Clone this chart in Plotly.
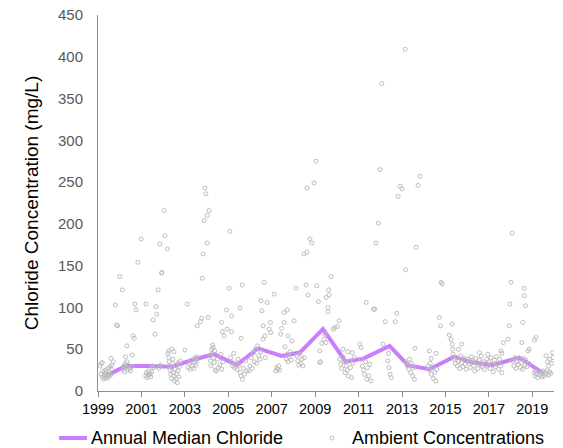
import plotly.graph_objects as go

# Annual median chloride (decimal year, mg/L)
median_year = [1999.45, 2000.27, 2001.35, 2002.39, 2003.46, 2004.35, 2005.38, 2006.37,
               2007.45, 2008.29, 2009.36, 2010.41, 2011.25, 2012.43, 2013.27, 2014.26,
               2015.41, 2016.26, 2017.17, 2018.40, 2019.52]
median_value = [19, 30, 30, 29, 38, 44, 31, 51, 42, 46, 74, 35, 39, 54, 31, 26,
                41, 34, 31, 40, 21]

# Ambient concentrations (decimal year, mg/L)
ambient_samples = [
    (1999.10, 30), (1999.15, 33), (1999.15, 20), (1999.20, 17), (1999.22, 24), (1999.25, 14),
    (1999.28, 19), (1999.30, 22), (1999.32, 16), (1999.35, 25), (1999.38, 18), (1999.40, 21),
    (1999.42, 15), (1999.45, 27), (1999.48, 20), (1999.50, 17), (1999.52, 23), (1999.55, 29),
    (1999.58, 19), (1999.60, 39), (1999.62, 26), (1999.63, 31), (1999.80, 103), (1999.86, 79),
    (1999.90, 78), (1999.70, 35), (1999.20, 34),
    (2000.01, 137), (2000.12, 121), (2000.33, 54), (2000.58, 43), (2000.26, 41), (2000.61, 66),
    (2000.67, 63), (2000.70, 104), (2000.75, 97), (2000.17, 26), (2000.20, 30), (2000.22, 23),
    (2000.25, 33), (2000.30, 28), (2000.33, 35), (2000.36, 25), (2000.40, 31), (2000.45, 27),
    (2000.50, 24), (2000.55, 29), (2000.84, 154), (2000.99, 182),
    (2001.21, 104), (2001.67, 101), (2001.70, 92), (2001.54, 85), (2001.62, 68), (2001.77, 121),
    (2001.93, 141), (2001.85, 176), (2001.94, 142), (2001.20, 18), (2001.23, 22), (2001.26, 16),
    (2001.30, 20), (2001.33, 24), (2001.36, 19), (2001.40, 21), (2001.43, 17), (2001.47, 23),
    (2001.50, 30), (2001.55, 28), (2001.80, 27), (2001.88, 31),
    (2002.05, 216), (2002.08, 186), (2002.19, 170), (2002.26, 48), (2002.39, 50), (2002.22, 45),
    (2002.25, 40), (2002.28, 35), (2002.30, 30), (2002.32, 25), (2002.35, 20), (2002.38, 15),
    (2002.40, 28), (2002.42, 33), (2002.45, 38), (2002.47, 22), (2002.50, 18), (2002.52, 12),
    (2002.55, 26), (2002.58, 31), (2002.60, 14), (2002.62, 20), (2002.65, 10), (2002.68, 24),
    (2002.70, 34), (2002.72, 17), (2002.75, 29), (2002.80, 36), (2002.50, 47),
    (2003.00, 49), (2003.11, 104), (2003.46, 40), (2003.57, 41), (2003.77, 87), (2003.72, 83),
    (2003.57, 78), (2003.80, 135), (2003.84, 164), (2003.89, 204), (2003.92, 243), (2003.97, 236),
    (2003.15, 28), (2003.20, 33), (2003.25, 26), (2003.30, 37), (2003.35, 30), (2003.40, 27),
    (2003.45, 34), (2003.50, 31), (2003.55, 36),
    (2004.03, 210), (2004.03, 177), (2004.07, 88), (2004.12, 216), (2004.23, 50), (2004.30, 52),
    (2004.69, 82), (2004.72, 71), (2004.81, 66), (2004.95, 74), (2004.92, 97), (2004.15, 42),
    (2004.18, 36), (2004.20, 30), (2004.25, 45), (2004.28, 55), (2004.32, 40), (2004.35, 34),
    (2004.38, 48), (2004.40, 25), (2004.45, 24), (2004.50, 38), (2004.55, 28), (2004.60, 31),
    (2004.65, 44), (2004.70, 26), (2004.75, 35),
    (2005.04, 123), (2005.07, 191), (2005.15, 90), (2005.15, 71), (2005.54, 99), (2005.59, 63),
    (2005.64, 127), (2005.10, 40), (2005.15, 35), (2005.20, 30), (2005.25, 45), (2005.30, 28),
    (2005.35, 33), (2005.40, 26), (2005.45, 38), (2005.50, 31), (2005.55, 22), (2005.60, 18),
    (2005.65, 14), (2005.70, 27), (2005.75, 20), (2005.80, 36), (2005.85, 24),
    (2006.51, 108), (2006.55, 96), (2006.60, 78), (2006.60, 62), (2006.65, 130), (2006.69, 66),
    (2006.79, 106), (2006.88, 74), (2006.94, 82), (2006.95, 70), (2005.96, 24), (2006.00, 30),
    (2006.05, 40), (2006.10, 27), (2006.15, 45), (2006.20, 35), (2006.25, 50), (2006.30, 33),
    (2006.35, 54), (2006.40, 42), (2006.45, 38), (2006.50, 47), (2006.70, 40),
    (2007.11, 116), (2007.41, 68), (2007.45, 75), (2007.57, 82), (2007.57, 94), (2007.72, 97),
    (2007.75, 66), (2007.93, 60), (2007.61, 53), (2007.18, 24), (2007.22, 28), (2007.27, 26),
    (2007.32, 30), (2007.37, 25), (2007.68, 38), (2007.72, 44), (2007.75, 35), (2007.80, 41),
    (2007.85, 47), (2007.90, 37),
    (2008.03, 84), (2008.12, 123), (2008.49, 164), (2008.58, 127), (2008.62, 243), (2008.62, 166),
    (2008.67, 115), (2008.76, 182), (2008.85, 177), (2008.95, 249), (2008.16, 42), (2008.20, 36),
    (2008.25, 31), (2008.30, 44), (2008.35, 33), (2008.40, 38), (2008.44, 30), (2008.50, 40),
    (2009.04, 275), (2009.07, 126), (2009.15, 107), (2009.21, 48), (2009.30, 57), (2009.21, 34),
    (2009.51, 112), (2009.59, 100), (2009.62, 121), (2009.64, 115), (2009.59, 95), (2009.74, 137),
    (2009.84, 74), (2009.90, 76), (2009.25, 35), (2009.40, 62), (2009.45, 68), (2009.50, 58),
    (2010.02, 77), (2010.10, 84), (2010.28, 50), (2010.51, 47), (2010.71, 46), (2010.13, 38),
    (2010.18, 32), (2010.22, 27), (2010.28, 41), (2010.33, 35), (2010.38, 22), (2010.43, 30),
    (2010.48, 25), (2010.53, 18), (2010.58, 36), (2010.63, 28), (2010.68, 16), (2010.73, 33),
    (2010.80, 40),
    (2011.05, 56), (2011.12, 52), (2011.35, 106), (2011.69, 98), (2011.75, 98), (2011.80, 177),
    (2011.91, 201), (2011.99, 265), (2011.12, 38), (2011.17, 30), (2011.22, 25), (2011.27, 20),
    (2011.32, 35), (2011.37, 14), (2011.42, 28), (2011.47, 18), (2011.52, 32), (2011.57, 12),
    (2012.07, 368), (2012.13, 56), (2012.23, 83), (2012.69, 83), (2012.76, 93), (2012.82, 233),
    (2012.91, 245), (2012.35, 36), (2012.40, 28), (2012.45, 20), (2012.50, 16), (2012.38, 45),
    (2013.00, 242), (2013.15, 409), (2013.17, 145), (2013.60, 51), (2013.65, 172), (2013.74, 246),
    (2013.83, 257), (2013.20, 35), (2013.25, 30), (2013.30, 26), (2013.35, 38), (2013.40, 22),
    (2013.45, 33), (2013.50, 18), (2013.55, 28), (2013.57, 14),
    (2014.26, 48), (2014.34, 39), (2014.57, 45), (2014.72, 88), (2014.77, 78), (2014.80, 130),
    (2014.85, 128), (2014.20, 30), (2014.25, 25), (2014.30, 33), (2014.35, 20), (2014.40, 28),
    (2014.45, 15), (2014.50, 22), (2014.55, 12), (2014.60, 26),
    (2015.18, 67), (2015.26, 62), (2015.31, 56), (2015.31, 80), (2015.34, 50), (2015.75, 56),
    (2015.60, 50), (2015.35, 44), (2015.40, 38), (2015.45, 33), (2015.50, 40), (2015.55, 30),
    (2015.60, 36), (2015.65, 27), (2015.70, 42), (2015.75, 34), (2015.80, 29), (2015.85, 39),
    (2015.90, 32), (2015.95, 26),
    (2016.56, 46), (2016.03, 38), (2016.10, 33), (2016.15, 28), (2016.20, 41), (2016.25, 36),
    (2016.30, 30), (2016.35, 24), (2016.40, 39), (2016.45, 34), (2016.50, 27), (2016.55, 37),
    (2016.60, 31), (2016.65, 42), (2016.70, 29), (2016.75, 35), (2016.79, 26),
    (2016.95, 44), (2017.56, 48), (2017.60, 45), (2017.67, 58), (2017.88, 62), (2017.94, 78),
    (2017.97, 104), (2016.90, 38), (2016.95, 30), (2017.00, 35), (2017.05, 27), (2017.10, 40),
    (2017.15, 32), (2017.20, 23), (2017.25, 37), (2017.30, 29), (2017.35, 41), (2017.40, 33),
    (2017.45, 26), (2017.50, 38), (2017.55, 30), (2017.60, 22),
    (2018.02, 130), (2018.07, 189), (2018.52, 58), (2018.56, 82), (2018.63, 123), (2018.63, 114),
    (2018.68, 102), (2018.86, 50), (2018.80, 48), (2018.10, 36), (2018.15, 30), (2018.20, 40),
    (2018.25, 27), (2018.30, 35), (2018.35, 32), (2018.40, 38), (2018.45, 28), (2018.50, 34),
    (2018.55, 26), (2018.60, 39), (2018.65, 31), (2018.70, 37), (2018.75, 29), (2018.85, 33),
    (2019.17, 64), (2019.10, 61), (2019.09, 22), (2019.12, 18), (2019.15, 24), (2019.20, 20),
    (2019.25, 16), (2019.30, 23), (2019.35, 19), (2019.40, 21), (2019.45, 17), (2019.50, 24),
    (2019.55, 18), (2019.60, 22), (2019.65, 20), (2019.70, 25), (2019.75, 19), (2019.80, 23),
    (2019.86, 21), (2019.63, 42), (2019.70, 35), (2019.75, 30), (2019.80, 38), (2019.93, 46),
    (2019.90, 33), (2019.95, 40),
]

year_ticks = [1999, 2001, 2003, 2005, 2007, 2009, 2011, 2013, 2015, 2017, 2019]
value_ticks = [0, 50, 100, 150, 200, 250, 300, 350, 400, 450]
legend_labels = ["Annual Median Chloride", "Ambient Concentrations"]

amb_x = [s[0] for s in ambient_samples]
amb_y = [s[1] for s in ambient_samples]

FONT = "Liberation Sans, Arial, sans-serif"
LINE_COLOR = "#cc7dff"
DOT_COLOR = "#bdbdbd"

fig = go.Figure()
fig.add_trace(go.Scatter(
    x=median_year, y=median_value, mode="lines", name=legend_labels[0],
    line=dict(color=LINE_COLOR, width=4),
))
fig.add_trace(go.Scatter(
    x=amb_x, y=amb_y, mode="markers", name=legend_labels[1],
    marker=dict(symbol="circle-open", size=4, color=DOT_COLOR, line=dict(width=1)),
))

# legend drawn below the plot (paper coordinates)
LEG_Y = -0.125
fig.add_shape(type="line", xref="paper", yref="paper",
              x0=-0.0855, x1=-0.0241, y0=LEG_Y, y1=LEG_Y,
              line=dict(color=LINE_COLOR, width=4))
fig.add_shape(type="circle", xref="paper", yref="paper",
              xsizemode="pixel", ysizemode="pixel", xanchor=0.513, yanchor=LEG_Y,
              x0=-2, x1=2, y0=-2, y1=2, line=dict(color=DOT_COLOR, width=1))
fig.add_annotation(xref="paper", yref="paper", x=-0.0197, y=LEG_Y,
                   xanchor="left", yanchor="middle", showarrow=False,
                   text=legend_labels[0], font=dict(size=18, color="#000000"))
fig.add_annotation(xref="paper", yref="paper", x=0.5526, y=LEG_Y,
                   xanchor="left", yanchor="middle", showarrow=False,
                   text=legend_labels[1], font=dict(size=18, color="#000000"))

fig.update_layout(
    width=563, height=448,
    margin=dict(l=98, r=9, t=15, b=57),
    paper_bgcolor="white", plot_bgcolor="white",
    font=dict(family=FONT, size=14, color="#000000"),
    showlegend=False,
    xaxis=dict(range=[1999, 2020], tickmode="array", tickvals=year_ticks,
               ticktext=[str(t) for t in year_ticks],
               showgrid=False, zeroline=False, showline=True, linecolor="#8c8c8c",
               linewidth=1, ticks="outside", ticklen=5, tickcolor="#8c8c8c",
               tickfont=dict(size=14.5, color="#000000"), automargin=False),
    yaxis=dict(range=[0, 450], tickmode="array", tickvals=value_ticks,
               showgrid=False, zeroline=False, showline=True, linecolor="#8c8c8c",
               linewidth=1, ticks="outside", ticklen=11, tickcolor="rgba(0,0,0,0)",
               tickfont=dict(size=15, color="#595959"), automargin=False,
               title=dict(text="Chloride Concentration (mg/L)",
                          font=dict(size=19, color="#000000"), standoff=14)),
)

fig.write_html("out.html", config={"displayModeBar": False},
               post_script="document.body.style.margin='0px';document.body.style.overflow='hidden';")
